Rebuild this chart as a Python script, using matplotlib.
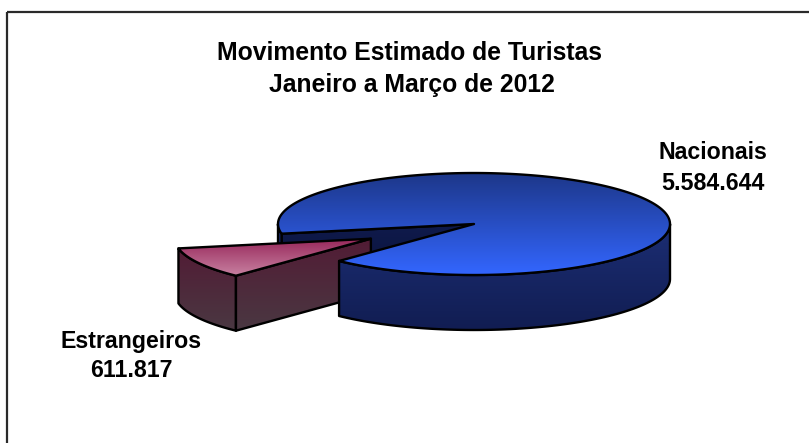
import numpy as np
import matplotlib
matplotlib.use('Agg')
import matplotlib.pyplot as plt
from matplotlib.patches import Polygon, Rectangle
from matplotlib.colors import LinearSegmentedColormap

# data
labels = ['Nacionais', 'Estrangeiros']
values = [5584644, 611817]
title_lines = ['Movimento Estimado de Turistas', 'Janeiro a Março de 2012']

# pie geometry (pixels)
cx, cy = 474, 224
rx, ry = 196, 51
depth = 55
start = 226.5     # where 'Nacionais' begins (deg, counterclockwise)
explode = [0.0, 0.6]

plt.rcParams['font.family'] = ['Liberation Sans', 'DejaVu Sans']

fig = plt.figure(figsize=(8.09, 4.43), dpi=100)
ax = fig.add_axes([0, 0, 1, 1])
ax.axis('off')


def pt(t, off=(0, 0), dz=0):
    t = np.radians(t)
    return np.column_stack([cx + off[0] + rx * np.cos(t),
                            cy + off[1] - ry * np.sin(t) + dz])


def arc(a0, a1, off=(0, 0), dz=0):
    n = max(int(abs(a1 - a0)), 2)
    return pt(np.linspace(a0, a1, n), off, dz)


def face(verts, c_top, c_bot, z):
    verts = np.asarray(verts)
    poly = Polygon(verts, closed=True, facecolor='none', edgecolor='black',
                   lw=1.7, joinstyle='round', zorder=z + 0.5)
    ax.add_patch(poly)
    cmap = LinearSegmentedColormap.from_list('g', [c_top, c_bot])
    img = np.linspace(0, 1, 256).reshape(-1, 1)
    im = ax.imshow(img, cmap=cmap, aspect='auto', interpolation='bilinear',
                   extent=(verts[:, 0].min(), verts[:, 0].max(),
                           verts[:, 1].max(), verts[:, 1].min()), zorder=z)
    im.set_clip_path(poly)


def side_wall(a0, a1, off, c_top, c_bot, z):
    top = arc(a0, a1, off)
    bot = arc(a1, a0, off, depth)
    face(np.vstack([top, bot]), c_top, c_bot, z)


def radial_wall(t, off, c_top, c_bot, z):
    c = np.array([cx + off[0], cy + off[1]])
    e = pt(t, off)[0]
    face([c, e, e + [0, depth], c + [0, depth]], c_top, c_bot, z)


total = sum(values)
spans = [360.0 * v / total for v in values]
a_nac = (start, start + spans[0])
a_est = (start + spans[0] - 360, start)
mid = np.radians(sum(a_est) / 2)
off_est = (explode[1] * rx * np.cos(mid), -explode[1] * ry * np.sin(mid))

# Nacionais: hidden-side parts first
radial_wall(a_nac[1], (0, 0), '#0f1a4c', '#0a1338', 1)
left_end = a_nac[1] - 360
if left_end > 180:
    side_wall(180, left_end, (0, 0), '#1b2c70', '#121e55', 2)

# Estrangeiros (exploded)
side_wall(a_est[0], a_est[1], off_est, '#521c35', '#4a3842', 3)
radial_wall(a_est[1], off_est, '#521c35', '#4a3842', 4)
face(np.vstack([[cx + off_est[0], cy + off_est[1]], arc(a_est[0], a_est[1], off_est)]),
     '#98285b', '#c882a2', 5)

# Nacionais: front wall and top
side_wall(a_nac[0], 360, (0, 0), '#1c2e74', '#111d52', 6)
face(np.vstack([[cx, cy], arc(a_nac[0], a_nac[1])]), '#1d3789', '#3366ff', 7)

# labels
fmt = lambda v: f'{v:,}'.replace(',', '.')
ax.text(713, 159, labels[0], ha='center', va='baseline', fontsize=16.7,
        fontweight='bold')
ax.text(713, 190, fmt(values[0]), ha='center', va='baseline', fontsize=16.7,
        fontweight='bold')
ax.text(131, 348, labels[1], ha='center', va='baseline', fontsize=16.7,
        fontweight='bold')
ax.text(131, 377, fmt(values[1]), ha='center', va='baseline', fontsize=16.7,
        fontweight='bold')

# title
ax.text(410, 60, title_lines[0], ha='center', va='baseline', fontsize=17.8,
        fontweight='bold')
ax.text(412, 92, title_lines[1], ha='center', va='baseline', fontsize=17.8,
        fontweight='bold')

# chart frame (runs past the right and bottom edges)
ax.add_patch(Rectangle((7.5, 12), 900, 500, fill=False, ec='#2a2a2a', lw=1.6,
                       zorder=10))

ax.set_xlim(0, 809)
ax.set_ylim(443, 0)
fig.savefig('out.png', dpi=100)
